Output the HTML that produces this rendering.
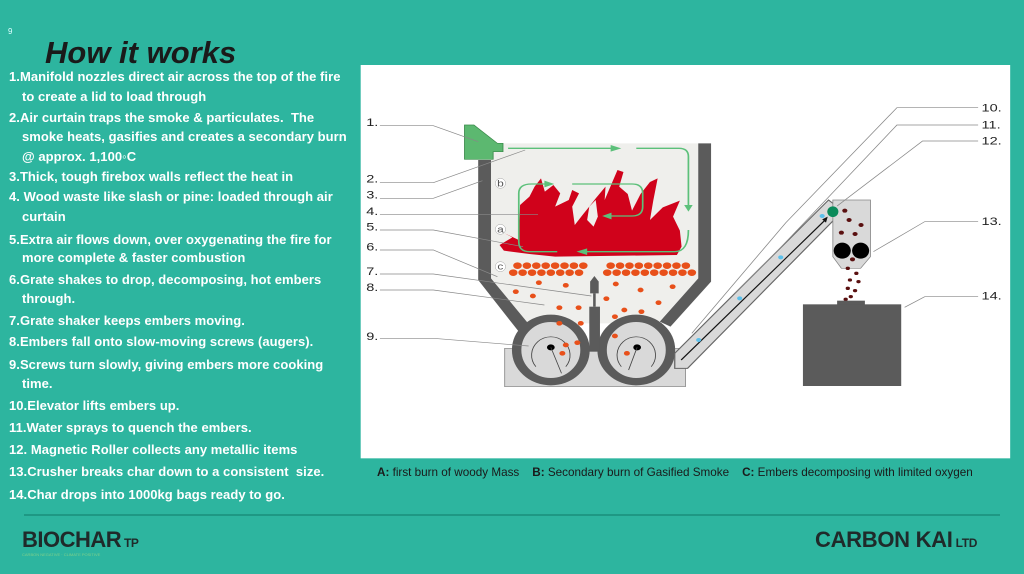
<!DOCTYPE html>
<html><head><meta charset="utf-8"><style>
body{margin:0;width:1024px;height:574px;background:#2db59f;position:relative;overflow:hidden;font-family:"Liberation Sans",sans-serif}
.t{position:absolute;left:9px;color:#fff;font-weight:bold;font-size:13px;letter-spacing:0.05px;line-height:14px;white-space:pre}
.i{left:22px}
</style></head><body>
<div style="position:absolute;left:8px;top:27px;font-size:8px;color:#dff">9</div>
<div style="position:absolute;left:45px;top:36px;font-size:31px;font-weight:bold;font-style:italic;color:#1a1a1a;line-height:34px">How it works</div>
<div class="t" style="top:70px">1.Manifold nozzles direct air across the top of the fire</div>
<div class="t i" style="top:90px">to create a lid to load through</div>
<div class="t" style="top:111px">2.Air curtain traps the smoke &amp; particulates.  The</div>
<div class="t i" style="top:130px">smoke heats, gasifies and creates a secondary burn</div>
<div class="t i" style="top:150px">@ approx. 1,100◦C</div>
<div class="t" style="top:170px">3.Thick, tough firebox walls reflect the heat in</div>
<div class="t" style="top:190px">4. Wood waste like slash or pine: loaded through air</div>
<div class="t i" style="top:210px">curtain</div>
<div class="t" style="top:233px">5.Extra air flows down, over oxygenating the fire for</div>
<div class="t i" style="top:251px">more complete &amp; faster combustion</div>
<div class="t" style="top:273px">6.Grate shakes to drop, decomposing, hot embers</div>
<div class="t i" style="top:292px">through.</div>
<div class="t" style="top:314px">7.Grate shaker keeps embers moving.</div>
<div class="t" style="top:335px">8.Embers fall onto slow-moving screws (augers).</div>
<div class="t" style="top:358px">9.Screws turn slowly, giving embers more cooking</div>
<div class="t i" style="top:377px">time.</div>
<div class="t" style="top:399px">10.Elevator lifts embers up.</div>
<div class="t" style="top:421px">11.Water sprays to quench the embers.</div>
<div class="t" style="top:443px">12. Magnetic Roller collects any metallic items</div>
<div class="t" style="top:465px">13.Crusher breaks char down to a consistent  size.</div>
<div class="t" style="top:488px">14.Char drops into 1000kg bags ready to go.</div>

<svg style="position:absolute;left:350px;top:60px" width="670" height="400" viewBox="0 0 1568 1200" preserveAspectRatio="none">
<rect x="25" y="15" width="1520" height="1180" fill="#fff"/>
<polygon points="330,250 815,250 815,655 720,790 410,790 330,655" fill="#efefec"/>
<polygon points="300,300 330,300 330,655 420,795 395,815 300,660" fill="#5b5b5b"/>
<polygon points="815,250 845,250 845,665 750,800 725,785 815,655" fill="#5b5b5b"/>
<rect x="362" y="865" width="423" height="115" fill="#d9d9d9" stroke="#888" stroke-width="2"/>
<ellipse cx="470" cy="870" rx="80" ry="95" fill="#d9d9d9" stroke="#5b5b5b" stroke-width="22"/>
<ellipse cx="670" cy="870" rx="80" ry="95" fill="#d9d9d9" stroke="#5b5b5b" stroke-width="22"/>
<path d="M435,920 A45,55 0 1 1 505,920" fill="none" stroke="#444" stroke-width="2"/>
<path d="M635,920 A45,55 0 1 1 705,920" fill="none" stroke="#444" stroke-width="2"/>
<circle cx="470" cy="862" r="9" fill="#000"/><circle cx="672" cy="862" r="9" fill="#000"/>
<line x1="470" y1="862" x2="495" y2="940" stroke="#444" stroke-width="2"/>
<line x1="672" y1="862" x2="652" y2="930" stroke="#444" stroke-width="2"/>
<rect x="560" y="740" width="25" height="135" fill="#5b5b5b"/>
<polygon points="562,665 572,648 582,665 582,700 562,700" fill="#5b5b5b"/>
<rect x="569" y="700" width="6" height="40" fill="#5b5b5b"/>
<polygon points="268,195 290,195 345,250 358,250 358,275 335,275 335,298 268,298" fill="#5cb870" stroke="#3a8a4a" stroke-width="2"/>
<polygon fill="#d0021b" points="350,555 380,532 362,520 395,540 398,435 420,410 432,380 447,355 456,395 476,375 492,400 480,440 512,420 520,390 536,400 520,440 526,495 546,462 560,440 575,415 598,380 596,420 612,372 626,330 640,336 630,380 650,402 660,452 680,402 702,366 720,355 710,420 702,480 732,442 772,422 756,470 772,512 776,560 765,585 480,590 420,582 360,572"/>
<polygon fill="#efefec" points="560,440 575,420 580,470 570,500 555,480"/>
<g fill="none" stroke="#5cc07a" stroke-width="4">
<line x1="370" y1="265" x2="620" y2="265"/>
<path d="M670,265 H770 Q792,265 792,290 V440"/>
<path d="M792,510 Q792,575 760,575 H540"/>
<path d="M485,575 H420 Q395,575 395,545 V400 Q395,372 425,372 H460"/>
<path d="M520,372 H660 Q685,372 685,400 V440 Q685,468 660,468 H600"/>
</g>
<g fill="#5cc07a">
<polygon points="610,255 635,265 610,275"/><polygon points="782,435 792,455 802,435"/>
<polygon points="555,565 530,575 555,585"/><polygon points="455,362 478,372 455,382"/>
<polygon points="612,458 590,468 612,478"/>
</g>
<g fill="#e8501a">
<circle cx="392" cy="617" r="10"/><circle cx="414" cy="617" r="10"/><circle cx="436" cy="617" r="10"/><circle cx="458" cy="617" r="10"/><circle cx="480" cy="617" r="10"/><circle cx="502" cy="617" r="10"/><circle cx="524" cy="617" r="10"/><circle cx="546" cy="617" r="10"/>
<circle cx="382" cy="638" r="10"/><circle cx="404" cy="638" r="10"/><circle cx="426" cy="638" r="10"/><circle cx="448" cy="638" r="10"/><circle cx="470" cy="638" r="10"/><circle cx="492" cy="638" r="10"/><circle cx="514" cy="638" r="10"/><circle cx="536" cy="638" r="10"/>
<circle cx="610" cy="617" r="10"/><circle cx="632" cy="617" r="10"/><circle cx="654" cy="617" r="10"/><circle cx="676" cy="617" r="10"/><circle cx="698" cy="617" r="10"/><circle cx="720" cy="617" r="10"/><circle cx="742" cy="617" r="10"/><circle cx="764" cy="617" r="10"/><circle cx="786" cy="617" r="10"/>
<circle cx="602" cy="638" r="10"/><circle cx="624" cy="638" r="10"/><circle cx="646" cy="638" r="10"/><circle cx="668" cy="638" r="10"/><circle cx="690" cy="638" r="10"/><circle cx="712" cy="638" r="10"/><circle cx="734" cy="638" r="10"/><circle cx="756" cy="638" r="10"/><circle cx="778" cy="638" r="10"/><circle cx="800" cy="638" r="10"/>
<circle cx="442" cy="668" r="7"/><circle cx="505" cy="676" r="7"/><circle cx="388" cy="695" r="7"/><circle cx="428" cy="708" r="7"/><circle cx="490" cy="743" r="7"/><circle cx="535" cy="743" r="7"/><circle cx="600" cy="716" r="7"/><circle cx="622" cy="672" r="7"/><circle cx="680" cy="690" r="7"/><circle cx="755" cy="680" r="7"/><circle cx="722" cy="728" r="7"/><circle cx="642" cy="750" r="7"/><circle cx="682" cy="755" r="7"/><circle cx="620" cy="770" r="7"/><circle cx="490" cy="790" r="7"/><circle cx="540" cy="790" r="7"/><circle cx="505" cy="855" r="7"/><circle cx="532" cy="848" r="7"/><circle cx="497" cy="880" r="7"/><circle cx="620" cy="828" r="7"/><circle cx="648" cy="880" r="7"/><circle cx="773" cy="897" r="7"/><circle cx="880" cy="778" r="7"/><circle cx="937" cy="705" r="7"/><circle cx="995" cy="630" r="7"/><circle cx="1052" cy="556" r="7"/>
</g>
<polygon points="760,880 1120,420 1140,440 1140,470 790,925 760,925" fill="#d9d9d9" stroke="#666" stroke-width="3"/>
<line x1="775" y1="900" x2="1112" y2="480" stroke="#111" stroke-width="3"/>
<polygon points="1105,478 1118,470 1114,488" fill="#111"/>
<polygon points="1130,420 1218,420 1218,590 1195,625 1150,625 1130,590" fill="#d9d9d9" stroke="#888" stroke-width="2"/>
<ellipse cx="1152" cy="572" rx="20" ry="24" fill="#000"/><ellipse cx="1195" cy="572" rx="20" ry="24" fill="#000"/>
<ellipse cx="1130" cy="455" rx="13" ry="16" fill="#0b8a5a"/>
<g fill="#5a1010"><circle cx="1158" cy="452" r="6"/><circle cx="1168" cy="480" r="6"/><circle cx="1196" cy="495" r="6"/><circle cx="1150" cy="518" r="6"/><circle cx="1182" cy="522" r="6"/><circle cx="1176" cy="598" r="6"/><circle cx="1165" cy="625" r="5"/><circle cx="1185" cy="640" r="5"/><circle cx="1170" cy="660" r="5"/><circle cx="1190" cy="665" r="5"/><circle cx="1165" cy="685" r="5"/><circle cx="1182" cy="692" r="5"/><circle cx="1172" cy="710" r="5"/><circle cx="1160" cy="718" r="5"/></g>
<g fill="#5bc0eb"><circle cx="1105" cy="468" r="6"/><circle cx="1008" cy="592" r="6"/><circle cx="912" cy="715" r="6"/><circle cx="816" cy="840" r="6"/></g>
<rect x="1060" y="733" width="230" height="245" fill="#5b5b5b"/>
<rect x="1140" y="722" width="65" height="12" fill="#5b5b5b"/>
<g fill="none" stroke="#888" stroke-width="2">
<polyline points="70,197 195,197 300,245"/>
<polyline points="70,368 195,368 410,270"/>
<polyline points="70,415 195,415 310,362"/>
<polyline points="70,463 440,463"/>
<polyline points="70,510 195,510 405,560"/>
<polyline points="70,570 195,570 345,650"/>
<polyline points="70,642 195,642 565,708"/>
<polyline points="70,690 195,690 455,735"/>
<polyline points="70,835 195,835 418,858"/>
<polyline points="1470,143 1280,143 1020,488 800,820"/>
<polyline points="1470,195 1280,195 995,580 900,700"/>
<polyline points="1470,243 1340,243 1140,438"/>
<polyline points="1470,485 1345,485 1225,575"/>
<polyline points="1470,710 1345,710 1298,742"/>
</g>
<g font-family="Liberation Sans,sans-serif" font-size="34" fill="#222">
<text x="38" y="198">1.</text><text x="38" y="368">2.</text><text x="38" y="415">3.</text><text x="38" y="465">4.</text><text x="38" y="512">5.</text><text x="38" y="572">6.</text><text x="38" y="645">7.</text><text x="38" y="693">8.</text><text x="38" y="840">9.</text>
<text x="1478" y="155">10.</text><text x="1478" y="205">11.</text><text x="1478" y="253">12.</text><text x="1478" y="495">13.</text><text x="1478" y="718">14.</text>
</g>
<g font-family="Liberation Sans,sans-serif" font-size="28" fill="#555" text-anchor="middle">
<ellipse cx="352" cy="370" rx="12" ry="15" fill="#fff" stroke="#888"/><text x="352" y="379">b</text>
<ellipse cx="352" cy="508" rx="12" ry="15" fill="#fff" stroke="#888"/><text x="352" y="517">a</text>
<ellipse cx="352" cy="620" rx="12" ry="15" fill="#fff" stroke="#888"/><text x="352" y="629">c</text>
</g>
</svg>

<div style="position:absolute;left:377px;top:466px;font-size:11.7px;color:#1a1a1a;white-space:pre"><b>A:</b> first burn of woody Mass    <b>B:</b> Secondary burn of Gasified Smoke    <b>C:</b> Embers decomposing with limited oxygen</div>
<div style="position:absolute;left:24px;top:514px;width:976px;height:2px;background:#1e9884"></div>
<div style="position:absolute;left:22px;top:527px;font-size:22px;font-weight:bold;color:#1f2a2a;letter-spacing:-0.5px">BIOCHAR<span style="font-size:12px"> TP</span></div>
<div style="position:absolute;left:22px;top:552px;font-size:4px;color:#7fd08a">CARBON NEGATIVE · CLIMATE POSITIVE</div>
<div style="position:absolute;left:815px;top:527px;font-size:22px;font-weight:bold;color:#1f2a2a;letter-spacing:-0.3px">CARBON KAI<span style="font-size:12px"> LTD</span></div>
</body></html>
